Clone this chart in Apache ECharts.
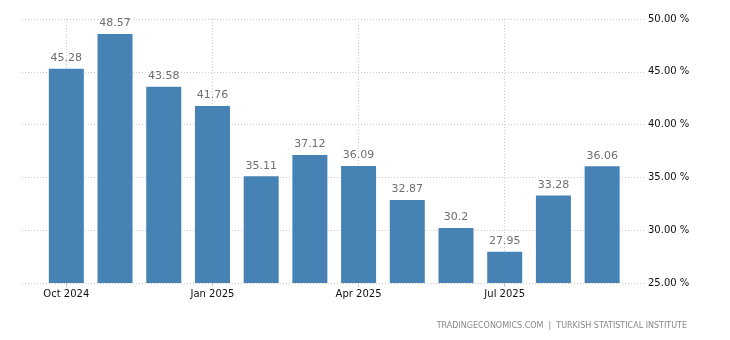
<!DOCTYPE html>
<html>
<head>
<meta charset="utf-8">
<script src="https://cdn.jsdelivr.net/npm/echarts@6/dist/echarts.min.js"></script>
<style>
  html, body { margin: 0; padding: 0; background: #fff; }
  #chart { width: 730px; height: 340px; }
</style>
</head>
<body>
<div id="chart"></div>
<script>
// Monthly readings, Oct 2024 – Sep 2025
const months = ['Oct 2024', 'Nov 2024', 'Dec 2024', 'Jan 2025', 'Feb 2025', 'Mar 2025',
                'Apr 2025', 'May 2025', 'Jun 2025', 'Jul 2025', 'Aug 2025', 'Sep 2025'];
const values = [45.28, 48.57, 43.58, 41.76, 35.11, 37.12, 36.09, 32.87, 30.2, 27.95, 33.28, 36.06];
// Month indices that carry an axis label
const labelledMonths = [0, 3, 6, 9];
const yTicks = [25, 30, 35, 40, 45, 50];

const chart = echarts.init(document.getElementById('chart'), null, { renderer: 'canvas' });

const gridLine = { show: true, lineStyle: { color: '#cccccc', type: [1, 2], width: 1 } };

chart.setOption({
  animation: false,
  backgroundColor: '#ffffff',
  textStyle: { fontFamily: 'DejaVu Sans' },
  grid: { left: 22, right: 85, top: 19, bottom: 57 },
  title: {
    text: 'TRADINGECONOMICS.COM  |  TURKISH STATISTICAL INSTITUTE',
    right: 38,
    bottom: 5,
    textStyle: { fontSize: 8, fontWeight: 'normal', color: '#888888', fontFamily: 'DejaVu Sans' }
  },
  xAxis: {
    type: 'value',
    min: -0.91,
    max: 11.88,
    axisLine: { show: false },
    axisTick: {
      show: true, length: 4, customValues: labelledMonths,
      lineStyle: { color: '#cccccc' }
    },
    axisLabel: {
      customValues: labelledMonths,
      formatter: v => months[Math.round(v)] || '',
      color: '#111111', fontSize: 10, margin: 6
    },
    splitLine: gridLine
  },
  yAxis: {
    type: 'value',
    position: 'right',
    min: yTicks[0],
    max: yTicks[yTicks.length - 1],
    interval: 5,
    axisLine: { show: false },
    axisTick: { show: false },
    axisLabel: {
      formatter: v => v.toFixed(2) + ' %',
      color: '#111111', fontSize: 10, margin: 3
    },
    splitLine: gridLine
  },
  series: [{
    type: 'bar',
    data: values.map((v, i) => [i, v]),
    barWidth: 35,
    itemStyle: { color: '#4682b4' },
    label: {
      show: true,
      position: 'top',
      distance: 5,
      formatter: p => String(p.value[1]),
      color: '#6f6f6f',
      fontSize: 11
    }
  }]
});
</script>
</body>
</html>
